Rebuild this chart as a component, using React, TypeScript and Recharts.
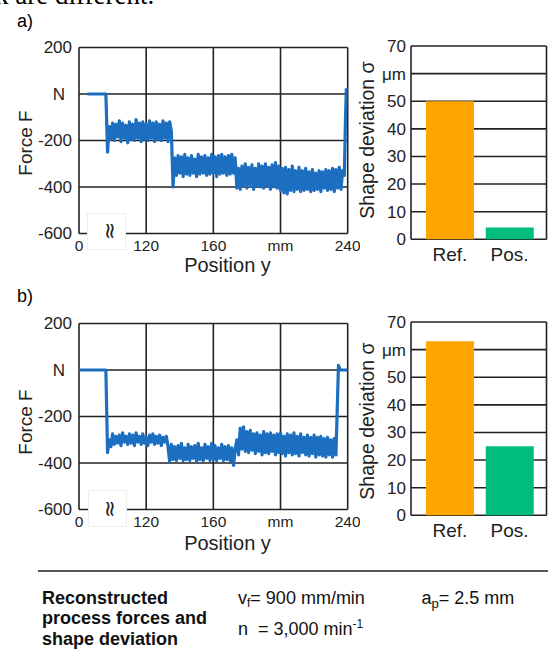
import React from "react";
import {
  LineChart,
  Line,
  BarChart,
  Bar,
  Cell,
  XAxis,
  YAxis,
  CartesianGrid,
} from "recharts";

const SANS = '"Liberation Sans", Arial, sans-serif';

// position y (mm) and force F (N), panel a)
const posA = [
  85, 96, 97, 98, 99, 100, 101, 102, 103, 104, 105, 106, 107, 108, 109, 110,
  111, 112, 113, 114, 115, 116, 117, 118, 119, 120, 121, 122, 123, 124, 125,
  126, 127, 128, 129, 130, 131, 132, 133, 134, 135, 136, 137, 138, 139, 140,
  141, 142, 143, 144, 145, 146, 147, 148, 149, 150, 151, 152, 153, 154, 155,
  156, 157, 158, 159, 160, 161, 162, 163, 164, 165, 166, 167, 168, 169, 170,
  171, 172, 173, 174, 175, 176, 177, 178, 179, 180, 181, 182, 183, 184, 185,
  186, 187, 188, 189, 190, 191, 192, 193, 194, 195, 196, 197, 198, 199, 200,
  201, 202, 203, 204, 205, 206, 207, 208, 209, 210, 211, 212, 213, 214, 215,
  216, 217, 218, 219, 220, 221, 222, 223, 224, 225, 226, 227, 228, 229, 230,
  231, 232, 233, 234, 235, 236, 237, 238, 238.7, 239.2,
];
const forceA = [
  0, 0, -250, -140, -195, -125, -200, -130, -185, -115, -205, -125, -190, -135,
  -210, -120, -195, -130, -200, -110, -190, -125, -205, -120, -195, -130, -200,
  -115, -190, -125, -205, -120, -195, -130, -200, -115, -190, -125, -205, -120,
  -160, -400, -275, -350, -265, -340, -270, -355, -260, -345, -275, -350, -265,
  -340, -280, -355, -260, -345, -270, -340, -265, -350, -275, -345, -260, -340,
  -270, -355, -265, -345, -260, -340, -270, -350, -265, -345, -260, -340, -275,
  -405, -320, -410, -310, -395, -300, -405, -315, -390, -305, -410, -320, -395,
  -300, -400, -310, -405, -300, -395, -315, -410, -305, -400, -295, -405, -310,
  -415, -320, -425, -315, -430, -325, -415, -310, -420, -330, -410, -315, -420,
  -330, -415, -320, -410, -335, -420, -325, -415, -340, -410, -330, -420, -335,
  -405, -325, -415, -330, -410, -320, -420, -325, -405, -315, -410, -330, -350,
  -100, 25,
];

// position y (mm) and force F (N), panel b)
const posB = [
  80, 96, 97, 98, 99, 100, 101, 102, 103, 104, 105, 106, 107, 108, 109, 110,
  111, 112, 113, 114, 115, 116, 117, 118, 119, 120, 121, 122, 123, 124, 125,
  126, 127, 128, 129, 130, 131, 132, 133, 134, 135, 136, 137, 138, 139, 140,
  141, 142, 143, 144, 145, 146, 147, 148, 149, 150, 151, 152, 153, 154, 155,
  156, 157, 158, 159, 160, 161, 162, 163, 164, 165, 166, 167, 168, 169, 170,
  171, 172, 173, 174, 175, 176, 177, 178, 179, 180, 181, 182, 183, 184, 185,
  186, 187, 188, 189, 190, 191, 192, 193, 194, 195, 196, 197, 198, 199, 200,
  201, 202, 203, 204, 205, 206, 207, 208, 209, 210, 211, 212, 213, 214, 215,
  216, 217, 218, 219, 220, 221, 222, 223, 224, 225, 226, 227, 228, 229, 230,
  231, 232, 233, 234.5, 235.5, 240,
];
const forceB = [
  0, 0, -355, -300, -330, -275, -320, -285, -315, -280, -325, -270, -310, -285,
  -320, -275, -315, -280, -325, -270, -310, -285, -320, -275, -315, -290, -325,
  -280, -310, -275, -320, -285, -315, -280, -325, -290, -310, -285, -330, -395,
  -320, -385, -330, -390, -325, -380, -315, -390, -335, -385, -320, -390, -330,
  -380, -325, -395, -315, -385, -335, -390, -320, -380, -330, -390, -315, -385,
  -325, -390, -335, -380, -320, -390, -330, -385, -325, -390, -335, -410, -340,
  -300, -365, -250, -340, -245, -350, -265, -355, -260, -345, -275, -360, -270,
  -350, -280, -365, -265, -355, -275, -360, -270, -350, -280, -365, -275, -355,
  -270, -360, -285, -370, -275, -355, -280, -365, -270, -360, -285, -370, -275,
  -355, -290, -365, -280, -370, -290, -360, -280, -375, -290, -365, -285, -370,
  -295, -375, -290, -365, -300, -375, -295, -365, 20, 0, 0,
];

const xTicks = [80, 120, 160, 200, 240];
const xTickLabels = ["0", "120", "160", "mm", "240"];
const forceTicks = [-600, -400, -200, 0, 200];

const deviationCats = ["Ref.", "Pos."];
const deviationA = [50, 4.3];
const deviationB = [63, 25];
const barColors = ["#ffa500", "#00bd7d"];
const devTicks = [0, 10, 20, 30, 40, 50, 60, 70];

const ForceTick = (props: any) => {
  const { x, y, payload } = props;
  const isN = payload.value === 0;
  return (
    <text
      x={isN ? x - 7 : x}
      y={y}
      dy="0.35em"
      textAnchor="end"
      fontSize={17}
      fill="#222"
      fontFamily={SANS}
    >
      {isN ? "N" : payload.value}
    </text>
  );
};

const ForcePanel = ({ pos, force }: { pos: number[]; force: number[] }) => {
  const data = pos.map((x, i) => ({ x, f: force[i] }));
  return (
    <LineChart
      width={360}
      height={280}
      data={data}
      margin={{ top: 47.5, right: 12.3, bottom: 16.5, left: 0 }}
    >
      <CartesianGrid stroke="#222" strokeWidth={1.6} />
      <XAxis
        dataKey="x"
        type="number"
        domain={[80, 240]}
        ticks={xTicks}
        allowDataOverflow
        height={30}
        tickSize={0}
        tickMargin={6}
        axisLine={false}
        tickFormatter={(v: number) => xTickLabels[xTicks.indexOf(v)]}
        tick={{ fontSize: 15.5, fill: "#222", fontFamily: SANS }}
      />
      <YAxis
        type="number"
        domain={[-600, 200]}
        ticks={forceTicks}
        width={79}
        tickSize={0}
        tickMargin={7}
        axisLine={false}
        tick={<ForceTick />}
      />
      <Line
        type="linear"
        dataKey="f"
        stroke="#1c6fc0"
        strokeWidth={3.2}
        strokeLinejoin="round"
        dot={false}
        isAnimationActive={false}
      />
    </LineChart>
  );
};

const DeviationPanel = ({ values }: { values: number[] }) => {
  const data = deviationCats.map((name, i) => ({ name, v: values[i] }));
  return (
    <BarChart
      width={198}
      height={280}
      data={data}
      margin={{ top: 46, right: 1.5, bottom: 10.7, left: 0 }}
    >
      <CartesianGrid
        stroke="#222"
        strokeWidth={1.6}
        verticalCoordinatesGenerator={({ offset }: any) => [
          offset.left,
          offset.left + offset.width,
        ]}
      />
      <XAxis
        dataKey="name"
        height={30}
        tickSize={0}
        tickMargin={8}
        axisLine={false}
        padding={{ left: 9, right: 7 }}
        tick={{ fontSize: 19, fill: "#222", fontFamily: SANS }}
      />
      <YAxis
        domain={[0, 70]}
        ticks={devTicks}
        width={61}
        tickSize={0}
        tickMargin={5}
        axisLine={false}
        tickFormatter={(v: number) => (v === 60 ? "μm" : String(v))}
        tick={{ fontSize: 17, fill: "#222", fontFamily: SANS }}
      />
      <Bar dataKey="v" barSize={48} isAnimationActive={false}>
        {data.map((d, i) => (
          <Cell key={d.name} fill={barColors[i]} />
        ))}
      </Bar>
    </BarChart>
  );
};

const Rotated = ({ x, y, size, text }: { x: number; y: number; size: number; text: string }) => (
  <div
    style={{
      position: "absolute",
      left: x,
      top: y,
      transform: "translate(-50%, -50%) rotate(-90deg)",
      whiteSpace: "nowrap",
      fontSize: size,
      fontFamily: SANS,
      color: "#222",
      lineHeight: 1,
    }}
  >
    {text}
  </div>
);

const Centered = ({ x, y, size, text }: { x: number; y: number; size: number; text: string }) => (
  <div
    style={{
      position: "absolute",
      left: x,
      top: y,
      transform: "translate(-50%, -50%)",
      whiteSpace: "nowrap",
      fontSize: size,
      fontFamily: SANS,
      color: "#222",
      lineHeight: 1,
    }}
  >
    {text}
  </div>
);

const BreakMark = ({ left, top, markY }: { left: number; top: number; markY: number }) => (
  <>
    <div
      style={{
        position: "absolute",
        left,
        top,
        width: 39,
        height: 37,
        background: "#fff",
        border: "1px solid #eee",
        boxSizing: "border-box",
      }}
    />
    <div
      style={{
        position: "absolute",
        left: 110,
        top: markY,
        transform: "translate(-50%, -50%) rotate(90deg)",
        fontSize: 22,
        fontFamily: '"DejaVu Sans", sans-serif',
        color: "#222",
        lineHeight: 1,
      }}
    >
      ≈
    </div>
  </>
);

const subStyle = { fontSize: 12, verticalAlign: "-3px" };

export default function App() {
  return (
    <div
      style={{
        position: "absolute",
        left: 0,
        top: 0,
        width: 548,
        height: 650,
        overflow: "hidden",
        background: "#fff",
        fontFamily: SANS,
      }}
    >
      <div
        style={{
          position: "absolute",
          left: -5,
          top: -17.6,
          fontSize: 27,
          lineHeight: "27px",
          fontFamily: '"Liberation Serif", "Times New Roman", serif',
          whiteSpace: "nowrap",
        }}
      >
        k are different.
      </div>

      <div style={{ position: "absolute", left: 17, top: 11, fontSize: 18, lineHeight: "20px" }}>a)</div>
      <div style={{ position: "absolute", left: 17, top: 286, fontSize: 18, lineHeight: "20px" }}>b)</div>

      <div style={{ position: "absolute", left: 0, top: 0 }}>
        <ForcePanel pos={posA} force={forceA} />
      </div>
      <div style={{ position: "absolute", left: 350, top: 0 }}>
        <DeviationPanel values={deviationA} />
      </div>
      <div style={{ position: "absolute", left: 0, top: 276 }}>
        <ForcePanel pos={posB} force={forceB} />
      </div>
      <div style={{ position: "absolute", left: 350, top: 276 }}>
        <DeviationPanel values={deviationB} />
      </div>

      <BreakMark left={87} top={213} markY={231} />
      <BreakMark left={88} top={490} markY={509} />

      <Rotated x={25} y={143} size={19} text="Force F" />
      <Rotated x={25} y={422} size={19} text="Force F" />
      <Rotated x={368} y={140} size={19.5} text="Shape deviation σ" />
      <Rotated x={368} y={421} size={19.5} text="Shape deviation σ" />
      <Centered x={227.5} y={265} size={20} text="Position y" />
      <Centered x={227.5} y={543} size={20} text="Position y" />

      <div
        style={{
          position: "absolute",
          left: 38,
          top: 570,
          width: 510,
          height: 2,
          background: "#555",
        }}
      />
      <div
        style={{
          position: "absolute",
          left: 42,
          top: 587.5,
          fontSize: 18,
          fontWeight: "bold",
          lineHeight: "20.5px",
          color: "#111",
        }}
      >
        Reconstructed
        <br />
        process forces and
        <br />
        shape deviation
      </div>
      <div
        style={{
          position: "absolute",
          left: 238,
          top: 587.5,
          fontSize: 18,
          lineHeight: "21px",
          color: "#111",
          whiteSpace: "nowrap",
        }}
      >
        v<sub style={subStyle}>f</sub>= 900 mm/min
        <br />
        n&nbsp;&nbsp;= 3,000 min<sup style={{ fontSize: 12, verticalAlign: "7px" }}>-1</sup>
      </div>
      <div
        style={{
          position: "absolute",
          left: 421.5,
          top: 587.5,
          fontSize: 18,
          lineHeight: "21px",
          color: "#111",
          whiteSpace: "nowrap",
        }}
      >
        a<sub style={{ fontSize: 13, verticalAlign: "-4px" }}>p</sub>= 2.5 mm
      </div>
    </div>
  );
}
